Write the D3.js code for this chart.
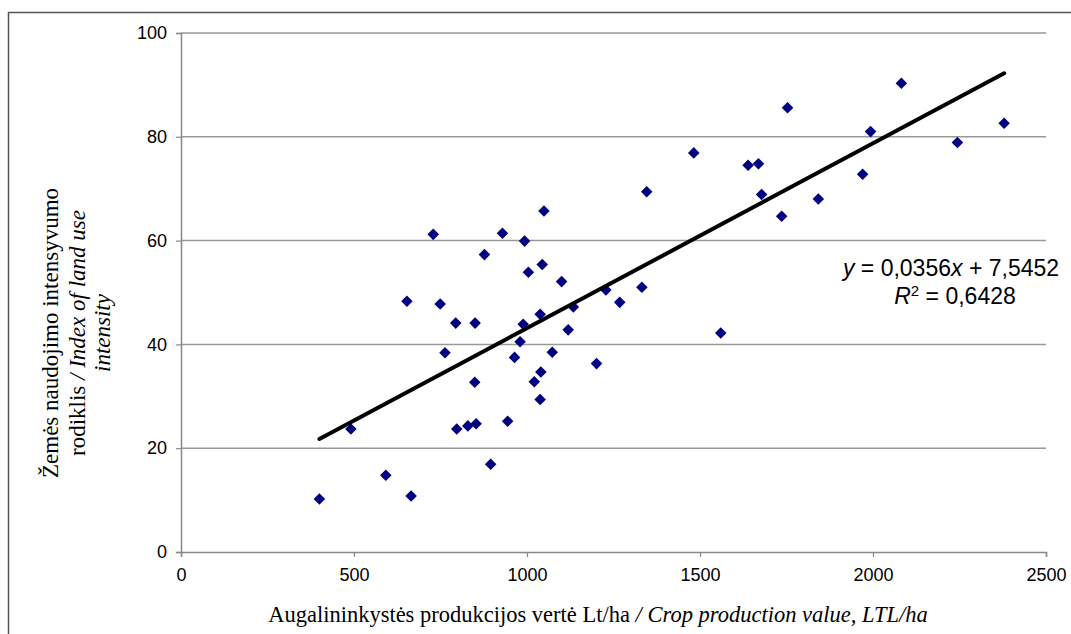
<!DOCTYPE html>
<html>

<head>
    <meta charset="UTF-8">
    <style>
        body { margin: 0; background: #fff; }
        svg { display: block; }
    </style>
</head>

<body>
    <script src="https://d3js.org/d3.v7.min.js"></script>
    <div id="chart"></div>
    <script>
        // crop production value (Lt/ha) and land use intensity index
        const xValues = [400, 491, 592, 665, 797, 829, 853, 944, 895, 1038,
            849, 1021, 1040, 1201, 964, 763, 1073, 980, 1119, 989,
            794, 850, 1038, 1134, 749, 653, 1268, 1228, 1332, 1100,
            1004, 1044, 877, 993, 729, 929, 1049, 1346, 1560, 1736,
            1842, 1678, 1970, 1639, 1669, 1482, 2244, 1993, 2379, 1753, 2082];
        const yValues = [10.2, 23.7, 14.8, 10.8, 23.7, 24.3, 24.7, 25.2, 16.9, 29.4,
            32.7, 32.8, 34.7, 36.3, 37.5, 38.4, 38.5, 40.5, 42.8, 43.9,
            44.1, 44.1, 45.8, 47.2, 47.8, 48.3, 48.1, 50.5, 51.0, 52.1,
            53.9, 55.4, 57.3, 59.9, 61.2, 61.4, 65.7, 69.4, 42.2, 64.7,
            68.0, 68.9, 72.8, 74.5, 74.8, 76.9, 78.9, 81.0, 82.6, 85.6, 90.3];
        const xTicks = [0, 500, 1000, 1500, 2000, 2500];
        const yTicks = [0, 20, 40, 60, 80, 100];
        const slope = 0.0356, intercept = 7.5452;
        const trendRange = [400, 2379];

        const points = xValues.map((x, i) => ({ x: x, y: yValues[i] }));

        const W = 1071, H = 634;
        const margin = { top: 33, right: 25, bottom: 82, left: 181 },
            width = W - margin.left - margin.right,
            height = H - margin.top - margin.bottom;

        const root = d3.select("#chart")
            .append("svg")
            .attr("width", W)
            .attr("height", H);

        // outer frame (runs off the right and bottom of the picture)
        root.append("rect")
            .attr("x", 8.5).attr("y", 12.5)
            .attr("width", W + 20).attr("height", H + 20)
            .attr("fill", "none")
            .attr("stroke", "#555")
            .attr("stroke-width", 1.5);

        const svg = root.append("g")
            .attr("transform", `translate(${margin.left}, ${margin.top})`);

        const x = d3.scaleLinear().domain([0, 2500]).range([0, width]);
        const y = d3.scaleLinear().domain([0, 100]).range([height, 0]);

        // gridlines
        svg.append("g")
            .selectAll("line")
            .data(yTicks.filter(d => d > 0))
            .enter()
            .append("line")
            .attr("x1", 0).attr("x2", width)
            .attr("y1", d => y(d)).attr("y2", d => y(d))
            .attr("stroke", "#999")
            .attr("stroke-width", 1.5);

        // X axis
        const xAxis = svg.append("g")
            .attr("transform", `translate(0, ${height})`)
            .call(d3.axisBottom(x).tickValues(xTicks).tickFormat(d3.format("d")).tickSize(5).tickPadding(11));
        // Y axis
        const yAxis = svg.append("g")
            .call(d3.axisLeft(y).tickValues(yTicks).tickFormat(d3.format("d")).tickSize(5).tickPadding(9));

        [xAxis, yAxis].forEach(a => {
            a.select(".domain").attr("stroke", "#888").attr("stroke-width", 1.5);
            a.selectAll(".tick line").attr("stroke", "#888").attr("stroke-width", 1.2);
            a.selectAll("text")
                .style("font-family", "'Liberation Sans', Arial, sans-serif")
                .style("font-size", "18px")
                .attr("fill", "#000");
        });

        // points
        const diamond = d3.symbol().type(d3.symbolDiamond2).size(85);
        svg.selectAll(".pt")
            .data(points)
            .enter()
            .append("path")
            .attr("class", "pt")
            .attr("d", diamond)
            .attr("transform", d => `translate(${x(d.x)}, ${y(d.y)})`)
            .attr("fill", "#000080");

        // linear trendline
        svg.append("line")
            .attr("x1", x(trendRange[0])).attr("y1", y(slope * trendRange[0] + intercept))
            .attr("x2", x(trendRange[1])).attr("y2", y(slope * trendRange[1] + intercept))
            .attr("stroke", "#000")
            .attr("stroke-width", 4)
            .attr("stroke-linecap", "round");

        // equation
        const eq = svg.append("text")
            .attr("text-anchor", "middle")
            .style("font-family", "'Liberation Sans', Arial, sans-serif")
            .style("font-size", "23px");
        const l1 = eq.append("tspan").attr("x", 951 - margin.left).attr("y", 276 - margin.top);
        l1.append("tspan").style("font-style", "italic").text("y");
        l1.append("tspan").text(" = 0,0356");
        l1.append("tspan").style("font-style", "italic").text("x");
        l1.append("tspan").text(" + 7,5452");
        const l2 = eq.append("tspan").attr("x", 955 - margin.left).attr("y", 304 - margin.top);
        l2.append("tspan").style("font-style", "italic").text("R");
        l2.append("tspan").style("font-size", "15px").attr("dy", -8).text("2");
        l2.append("tspan").attr("dy", 8).text(" = 0,6428");

        // axis titles
        const xt = root.append("text")
            .attr("x", 598).attr("y", 622)
            .attr("text-anchor", "middle")
            .style("font-family", "'Liberation Serif', 'Times New Roman', serif")
            .style("font-size", "22.5px");
        xt.append("tspan").text("Augalininkystės produkcijos vertė Lt/ha ");
        xt.append("tspan").style("font-style", "italic").text("/ Crop production value, LTL/ha");

        const yt = root.append("text")
            .attr("transform", "translate(0, 333) rotate(-90)")
            .attr("text-anchor", "middle")
            .style("font-family", "'Liberation Serif', 'Times New Roman', serif")
            .style("font-size", "23px");
        yt.append("tspan").attr("x", 0).attr("y", 58).text("Žemės naudojimo intensyvumo");
        const r2 = yt.append("tspan").attr("x", 0).attr("y", 85);
        r2.append("tspan").text("rodiklis ");
        r2.append("tspan").style("font-style", "italic").text("/ Index of land use");
        yt.append("tspan").attr("x", 0).attr("y", 110).style("font-style", "italic").text("intensity");
    </script>
</body>

</html>
